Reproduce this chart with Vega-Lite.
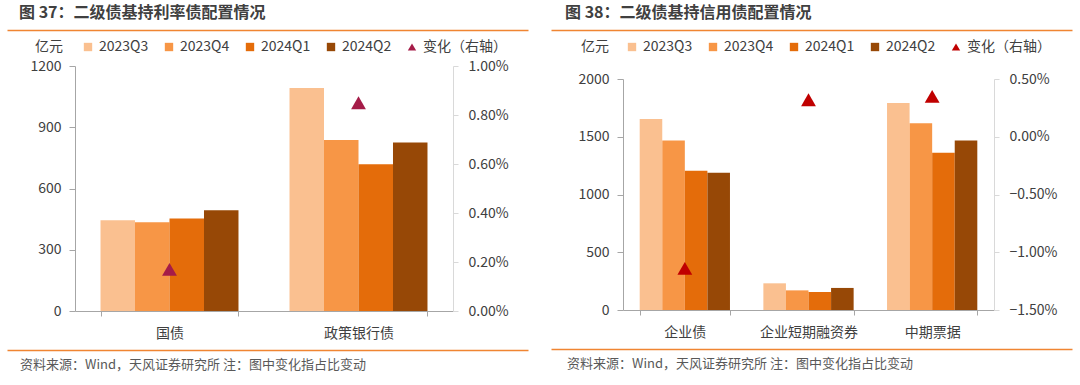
{
  "$schema": "https://vega.github.io/schema/vega-lite/v6.json",
  "background": "white",
  "padding": {"left": 7, "top": 5, "right": 0, "bottom": 0},
  "config": {
    "font": "Noto Sans CJK SC",
    "view": {"stroke": null},
    "axis": {"labelFont": "Noto Sans CJK SC", "labelFontSize": 14, "labelColor": "#404040", "domainColor": "#A6A6A6", "tickColor": "#A6A6A6", "grid": false, "title": null},
    "legend": {"labelFont": "Noto Sans CJK SC", "titleFont": "Noto Sans CJK SC"}
  },
  "datasets": {
    "rate_bars": [
      {"cat": "国债", "q": "2023Q3", "v": 445},
      {"cat": "国债", "q": "2023Q4", "v": 435},
      {"cat": "国债", "q": "2024Q1", "v": 453},
      {"cat": "国债", "q": "2024Q2", "v": 493},
      {"cat": "政策银行债", "q": "2023Q3", "v": 1092},
      {"cat": "政策银行债", "q": "2023Q4", "v": 837},
      {"cat": "政策银行债", "q": "2024Q1", "v": 719},
      {"cat": "政策银行债", "q": "2024Q2", "v": 825}
    ],
    "rate_change": [
      {"cat": "国债", "q": "变化（右轴）", "chg": 0.0017},
      {"cat": "政策银行债", "q": "变化（右轴）", "chg": 0.0085}
    ],
    "credit_bars": [
      {"cat": "企业债", "q": "2023Q3", "v": 1653},
      {"cat": "企业债", "q": "2023Q4", "v": 1468},
      {"cat": "企业债", "q": "2024Q1", "v": 1205},
      {"cat": "企业债", "q": "2024Q2", "v": 1188},
      {"cat": "企业短期融资券", "q": "2023Q3", "v": 231},
      {"cat": "企业短期融资券", "q": "2023Q4", "v": 170},
      {"cat": "企业短期融资券", "q": "2024Q1", "v": 156},
      {"cat": "企业短期融资券", "q": "2024Q2", "v": 191},
      {"cat": "中期票据", "q": "2023Q3", "v": 1792},
      {"cat": "中期票据", "q": "2023Q4", "v": 1616},
      {"cat": "中期票据", "q": "2024Q1", "v": 1361},
      {"cat": "中期票据", "q": "2024Q2", "v": 1468}
    ],
    "credit_change": [
      {"cat": "企业债", "q": "变化（右轴）", "chg": -0.0114},
      {"cat": "企业短期融资券", "q": "变化（右轴）", "chg": 0.0032},
      {"cat": "中期票据", "q": "变化（右轴）", "chg": 0.0035}
    ]
  },
  "hconcat": [
    {
      "vconcat": [
        {
          "width": 453, "height": 0.01,
          "data": {"values": [{}]},
          "mark": {"type": "text", "text": ""},
          "encoding": {
            "x": {"datum": 0, "type": "quantitative", "scale": {"domain": [0, 1], "range": [-68, 453]}, "axis": {"orient": "bottom", "domain": true, "domainColor": "#F08532", "domainWidth": 1.5, "ticks": false, "labels": false, "grid": false, "title": null}}
          },
          "title": {"text": "图 37：二级债基持利率债配置情况", "anchor": "start", "dx": 12, "offset": 3, "fontSize": 16, "fontWeight": "bold", "color": "#404040", "font": "Noto Sans CJK SC"}
        },
        {
          "width": 378, "height": 245,
          "layer": [
            {
              "data": {"name": "rate_bars"},
              "mark": {"type": "bar"},
              "encoding": {
                "x": {"field": "cat", "type": "nominal", "sort": ["国债", "政策银行债"], "scale": {"paddingInner": 0.27, "paddingOuter": 0.135}, "axis": {"labelAngle": 0, "tickBand": "extent", "tickSize": 5, "labelPadding": 10}},
                "xOffset": {"field": "q", "type": "nominal", "sort": ["2023Q3", "2023Q4", "2024Q1", "2024Q2"], "scale": {"paddingInner": 0, "paddingOuter": 0}},
                "y": {"field": "v", "type": "quantitative", "scale": {"domain": [0, 1200], "nice": false}, "axis": {"orient": "left", "format": "d", "values": [0, 300, 600, 900, 1200], "tickSize": 6, "labelPadding": 8, "title": "亿元", "titleAngle": 0, "titleX": -68, "titleY": -14, "titleAlign": "left", "titleBaseline": "middle", "titleOpacity": 0, "titleFontSize": 14}},
                "color": {"field": "q", "type": "nominal", "scale": {"domain": ["2023Q3", "2023Q4", "2024Q1", "2024Q2", "变化（右轴）"], "range": ["#FAC090", "#F79646", "#E46C0A", "#974806", "#A51C48"]},
                  "legend": {"orient": "none", "legendX": -40, "legendY": -26, "direction": "horizontal", "title": "亿元", "titleOrient": "left", "titleFontSize": 14, "titleFontWeight": "normal", "titleColor": "#404040", "titlePadding": 18, "labelFontSize": 14, "labelColor": "#404040", "symbolSize": 70, "labelOffset": 4, "columnPadding": 13}}
              }
            },
            {
              "data": {"name": "rate_change"},
              "mark": {"type": "point", "filled": true, "size": 220, "opacity": 1},
              "encoding": {
                "x": {"field": "cat", "type": "nominal", "sort": ["国债", "政策银行债"]},
                "y": {"field": "chg", "type": "quantitative", "scale": {"domain": [0, 0.01], "nice": false}, "axis": {"orient": "right", "format": ".2%", "values": [0, 0.002, 0.004, 0.006, 0.008, 0.01], "tickSize": 5, "labelPadding": 10, "domainColor": "#D9D9D9", "tickColor": "#D9D9D9"}},
                "color": {"field": "q", "type": "nominal"},
                "shape": {"field": "q", "type": "nominal", "scale": {"domain": ["2023Q3", "2023Q4", "2024Q1", "2024Q2", "变化（右轴）"], "range": ["square", "square", "square", "square", "triangle-up"]}}
              }
            }
          ],
          "resolve": {"scale": {"y": "independent"}}
        },
        {
          "width": 453, "height": 0.01,
          "data": {"values": [{}]},
          "mark": {"type": "text", "text": ""},
          "encoding": {
            "x": {"datum": 0, "type": "quantitative", "scale": {"domain": [0, 1], "range": [-68, 453]}, "axis": {"orient": "bottom", "domain": true, "domainColor": "#F08532", "domainWidth": 1.5, "ticks": false, "labels": false, "grid": false, "title": null}}
          },
          "title": {"text": "资料来源：Wind，天风证券研究所 注：图中变化指占比变动", "orient": "bottom", "anchor": "start", "dx": 13, "offset": 4, "fontSize": 13, "fontWeight": "normal", "color": "#595959", "font": "Noto Sans CJK SC"}
        }
      ],
      "spacing": 4,
      "resolve": {"scale": {"color": "independent", "shape": "independent", "xOffset": "independent", "x": "independent"}, "legend": {"color": "independent", "shape": "independent"}}
    },
    {
      "vconcat": [
        {
          "width": 449, "height": 0.01,
          "data": {"values": [{}]},
          "mark": {"type": "text", "text": ""},
          "encoding": {
            "x": {"datum": 0, "type": "quantitative", "scale": {"domain": [0, 1], "range": [-72, 449]}, "axis": {"orient": "bottom", "domain": true, "domainColor": "#F08532", "domainWidth": 1.5, "ticks": false, "labels": false, "grid": false, "title": null}}
          },
          "title": {"text": "图 38：二级债基持信用债配置情况", "anchor": "start", "dx": 14, "offset": 3, "fontSize": 16, "fontWeight": "bold", "color": "#404040", "font": "Noto Sans CJK SC"}
        },
        {
          "width": 371, "height": 231,
          "layer": [
            {
              "data": {"name": "credit_bars"},
              "mark": {"type": "bar"},
              "encoding": {
                "x": {"field": "cat", "type": "nominal", "sort": ["企业债", "企业短期融资券", "中期票据"], "scale": {"paddingInner": 0.27, "paddingOuter": 0.135}, "axis": {"labelAngle": 0, "tickBand": "extent", "tickSize": 5, "labelPadding": 10}},
                "xOffset": {"field": "q", "type": "nominal", "sort": ["2023Q3", "2023Q4", "2024Q1", "2024Q2"], "scale": {"paddingInner": 0, "paddingOuter": 0}},
                "y": {"field": "v", "type": "quantitative", "scale": {"domain": [0, 2000], "nice": false}, "axis": {"orient": "left", "format": "d", "values": [0, 500, 1000, 1500, 2000], "tickSize": 6, "labelPadding": 8, "title": "亿元", "titleAngle": 0, "titleX": -72, "titleY": -27, "titleAlign": "left", "titleBaseline": "middle", "titleOpacity": 0, "titleFontSize": 14}},
                "color": {"field": "q", "type": "nominal", "scale": {"domain": ["2023Q3", "2023Q4", "2024Q1", "2024Q2", "变化（右轴）"], "range": ["#FAC090", "#F79646", "#E46C0A", "#974806", "#C00000"]},
                  "legend": {"orient": "none", "legendX": -42, "legendY": -39, "direction": "horizontal", "title": "亿元", "titleOrient": "left", "titleFontSize": 14, "titleFontWeight": "normal", "titleColor": "#404040", "titlePadding": 16, "labelFontSize": 14, "labelColor": "#404040", "symbolSize": 70, "labelOffset": 4, "columnPadding": 13}}
              }
            },
            {
              "data": {"name": "credit_change"},
              "mark": {"type": "point", "filled": true, "size": 220, "opacity": 1},
              "encoding": {
                "x": {"field": "cat", "type": "nominal", "sort": ["企业债", "企业短期融资券", "中期票据"]},
                "y": {"field": "chg", "type": "quantitative", "scale": {"domain": [-0.015, 0.005], "nice": false}, "axis": {"orient": "right", "format": ".2%", "values": [-0.015, -0.01, -0.005, 0, 0.005], "tickSize": 5, "labelPadding": 10, "domainColor": "#D9D9D9", "tickColor": "#D9D9D9"}},
                "color": {"field": "q", "type": "nominal"},
                "shape": {"field": "q", "type": "nominal", "scale": {"domain": ["2023Q3", "2023Q4", "2024Q1", "2024Q2", "变化（右轴）"], "range": ["square", "square", "square", "square", "triangle-up"]}}
              }
            }
          ],
          "resolve": {"scale": {"y": "independent"}}
        },
        {
          "width": 449, "height": 0.01,
          "data": {"values": [{}]},
          "mark": {"type": "text", "text": ""},
          "encoding": {
            "x": {"datum": 0, "type": "quantitative", "scale": {"domain": [0, 1], "range": [-72, 449]}, "axis": {"orient": "bottom", "domain": true, "domainColor": "#F08532", "domainWidth": 1.5, "ticks": false, "labels": false, "grid": false, "title": null}}
          },
          "title": {"text": "资料来源：Wind，天风证券研究所 注：图中变化指占比变动", "orient": "bottom", "anchor": "start", "dx": 16, "offset": 4, "fontSize": 13, "fontWeight": "normal", "color": "#595959", "font": "Noto Sans CJK SC"}
        }
      ],
      "spacing": 4,
      "resolve": {"scale": {"color": "independent", "shape": "independent", "xOffset": "independent", "x": "independent"}, "legend": {"color": "independent", "shape": "independent"}}
    }
  ],
  "spacing": -45,
  "resolve": {"scale": {"color": "independent", "shape": "independent", "xOffset": "independent", "x": "independent"}, "legend": {"color": "independent", "shape": "independent"}}
}
